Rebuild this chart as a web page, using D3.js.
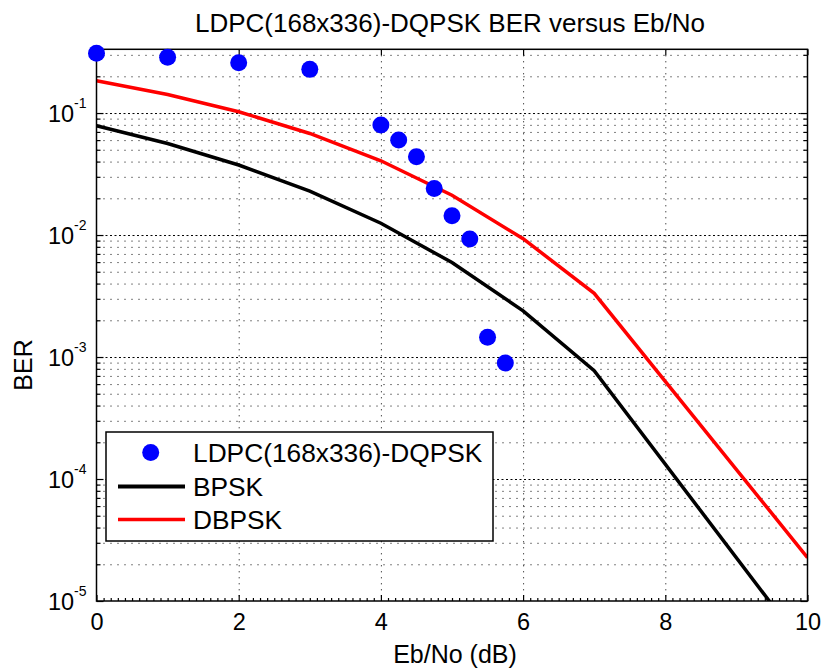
<!DOCTYPE html>
<html>
<head>
<meta charset="utf-8">
<script src="https://cdn.jsdelivr.net/npm/d3@7"></script>
<style>
  body { margin: 0; background: #fff; }
  svg { font-family: "Liberation Sans", Arial, sans-serif; }
</style>
</head>
<body>
<div id="chart"></div>
<script>
// Theory curves (BPSK and DBPSK) sampled at these Eb/No values
const ebno = [0, 1, 2, 3, 4, 5, 6, 7, 10];
const berBpsk = [0.0786, 0.0563, 0.0375, 0.0229, 0.0125, 0.00595, 0.00239, 0.000773, 0.00000387];
const berDbpsk = [0.184, 0.142, 0.1025, 0.068, 0.0406, 0.0212, 0.00933, 0.00333, 0.0000227];

// Simulated LDPC points
const ldpcEbno = [0, 1, 2, 3, 4, 4.25, 4.5, 4.75, 5, 5.25, 5.5, 5.75];
const ldpcBer = [0.309, 0.286, 0.258, 0.228, 0.0797, 0.060, 0.0438, 0.0241, 0.0144, 0.00928, 0.00145, 0.000892];

const xTicks = [0, 2, 4, 6, 8, 10];
const yTicks = [1e-5, 1e-4, 1e-3, 1e-2, 1e-1];
const yExponents = ["-5", "-4", "-3", "-2", "-1"];
const legendLabels = ["LDPC(168x336)-DQPSK", "BPSK", "DBPSK"];

/* constants */
const width = 824;
const height = 671;
const margin = {top: 49.3, right: 16.5, bottom: 70, left: 96.5};
const innerWidth = width - margin.left - margin.right;
const innerHeight = height - margin.top - margin.bottom;

const svg = d3.select("#chart")
  .append("svg")
    .attr("width", width)
    .attr("height", height);

svg.append("rect")
  .attr("width", width)
  .attr("height", height)
  .attr("fill", "#fff");

const inner = svg.append("g")
  .attr("transform", `translate(${margin.left}, ${margin.top})`);

/* scales */
const xScale = d3.scaleLinear()
  .domain([0, 10])
  .range([0, innerWidth]);

const yScale = d3.scaleLog()
  .domain([1e-5, 0.333])
  .range([innerHeight, 0]);

// minor log positions 1..9 per decade inside the domain
const yMinor = [];
for (let k = -5; k <= -1; k++) {
  for (let m = 1; m <= 9; m++) {
    const v = m * Math.pow(10, k);
    if (v <= 0.333) yMinor.push(v);
  }
}
const yMinorOnly = yMinor.filter(v => !yTicks.includes(v));
const xMinor = d3.range(0, 100.5, 1).map(d => d / 10).filter(v => v % 2 !== 0);

// strip domain path and empty tick texts
const bare = g => {
  g.select(".domain").remove();
  g.selectAll("text").filter(function() { return this.textContent === ""; }).remove();
};

/* grid */
inner.append("g")
  .attr("class", "grid")
  .call(d3.axisBottom(xScale).tickValues(xTicks.slice(1, -1)).tickSize(innerHeight).tickFormat(""))
  .call(bare)
  .call(g => g.selectAll("line")
    .attr("stroke", "#000").attr("stroke-width", 1).attr("stroke-dasharray", "1,5"));

inner.append("g")
  .attr("class", "grid")
  .call(d3.axisLeft(yScale).tickValues(yMinorOnly).tickSize(-innerWidth).tickFormat(""))
  .call(bare)
  .call(g => g.selectAll("line")
    .attr("stroke", "#000").attr("stroke-width", 1).attr("stroke-dasharray", "1,6"));

inner.append("g")
  .attr("class", "grid")
  .call(d3.axisLeft(yScale).tickValues(yTicks.slice(1)).tickSize(-innerWidth).tickFormat(""))
  .call(bare)
  .call(g => g.selectAll("line")
    .attr("stroke", "#000").attr("stroke-width", 1).attr("stroke-dasharray", "2,2.5"));

/* data */
inner.append("clipPath")
  .attr("id", "clip")
  .append("rect")
    .attr("width", innerWidth)
    .attr("height", innerHeight);

const line = d3.line()
  .x(d => xScale(d[0]))
  .y(d => yScale(d[1]));

inner.append("path")
  .datum(d3.zip(ebno, berBpsk))
  .attr("clip-path", "url(#clip)")
  .attr("d", line)
  .attr("fill", "none")
  .attr("stroke", "#000")
  .attr("stroke-width", 3.5);

inner.append("path")
  .datum(d3.zip(ebno, berDbpsk))
  .attr("clip-path", "url(#clip)")
  .attr("d", line)
  .attr("fill", "none")
  .attr("stroke", "#ff0000")
  .attr("stroke-width", 3.5);

/* axes */
const axisStyle = g => {
  bare(g);
  g.selectAll("line").attr("stroke", "#000").attr("stroke-width", 1.2);
};

// bottom
inner.append("g")
  .attr("transform", `translate(0, ${innerHeight})`)
  .call(d3.axisBottom(xScale).tickValues(xTicks).tickSize(-6).tickPadding(12).tickFormat(d3.format("d")))
  .call(axisStyle)
  .call(g => g.selectAll("text")
    .attr("font-size", 23.5).attr("fill", "#000").attr("font-family", "Liberation Sans, Arial, sans-serif"));
inner.append("g")
  .attr("transform", `translate(0, ${innerHeight})`)
  .call(d3.axisBottom(xScale).tickValues(xMinor).tickSize(-3).tickFormat(""))
  .call(axisStyle);

// top
inner.append("g")
  .call(d3.axisTop(xScale).tickValues(xTicks).tickSize(-6).tickFormat(""))
  .call(axisStyle);

// left
const leftAxis = inner.append("g")
  .call(d3.axisLeft(yScale).tickValues(yTicks).tickSize(-7).tickFormat(""))
  .call(axisStyle);
leftAxis.selectAll(".tick").each(function(d, i) {
  const t = d3.select(this).append("text")
    .attr("x", -10)
    .attr("y", 8)
    .attr("text-anchor", "end")
    .attr("fill", "#000")
    .attr("font-family", "Liberation Sans, Arial, sans-serif");
  t.append("tspan").attr("font-size", 23.5).text("10");
  t.append("tspan").attr("font-size", 14).attr("dy", -14).text(yExponents[i]);
});
inner.append("g")
  .call(d3.axisLeft(yScale).tickValues(yMinorOnly).tickSize(-4).tickFormat(""))
  .call(axisStyle);

// right
inner.append("g")
  .attr("transform", `translate(${innerWidth}, 0)`)
  .call(d3.axisRight(yScale).tickValues(yTicks).tickSize(-7).tickFormat(""))
  .call(axisStyle);
inner.append("g")
  .attr("transform", `translate(${innerWidth}, 0)`)
  .call(d3.axisRight(yScale).tickValues(yMinorOnly).tickSize(-4).tickFormat(""))
  .call(axisStyle);

// box
inner.append("rect")
  .attr("width", innerWidth)
  .attr("height", innerHeight)
  .attr("fill", "none")
  .attr("stroke", "#000")
  .attr("stroke-width", 1.5);

/* markers */
inner.append("g")
  .selectAll("circle")
  .data(d3.zip(ldpcEbno, ldpcBer))
  .join("circle")
    .attr("cx", d => xScale(d[0]))
    .attr("cy", d => yScale(d[1]))
    .attr("r", 8.5)
    .attr("fill", "#0000ff");

/* labels */
svg.append("text")
  .text("LDPC(168x336)-DQPSK BER versus Eb/No")
  .attr("x", 450)
  .attr("y", 32)
  .attr("text-anchor", "middle")
  .attr("font-size", 26);

svg.append("text")
  .text("Eb/No (dB)")
  .attr("x", margin.left + innerWidth / 2 + 3)
  .attr("y", 663)
  .attr("text-anchor", "middle")
  .attr("font-size", 25);

svg.append("text")
  .text("BER")
  .attr("transform", "translate(32, 365) rotate(-90)")
  .attr("text-anchor", "middle")
  .attr("font-size", 25);

/* legend */
const legend = svg.append("g")
  .attr("transform", "translate(106, 432)");
legend.append("rect")
  .attr("width", 387)
  .attr("height", 109)
  .attr("fill", "#fff")
  .attr("stroke", "#000")
  .attr("stroke-width", 1.5);

const rowY = [20.5, 54.5, 87.5];
legend.append("circle")
  .attr("cx", 44.7)
  .attr("cy", rowY[0])
  .attr("r", 8.5)
  .attr("fill", "#0000ff");
legend.append("line")
  .attr("x1", 12).attr("x2", 79)
  .attr("y1", rowY[1]).attr("y2", rowY[1])
  .attr("stroke", "#000").attr("stroke-width", 4);
legend.append("line")
  .attr("x1", 12).attr("x2", 79)
  .attr("y1", rowY[2]).attr("y2", rowY[2])
  .attr("stroke", "#ff0000").attr("stroke-width", 3.5);

legend.selectAll("text.label")
  .data(legendLabels)
  .join("text")
    .attr("class", "label")
    .attr("x", 87)
    .attr("y", (d, i) => rowY[i] + 9.5)
    .attr("font-size", 26.3)
    .text(d => d);
</script>
</body>
</html>
